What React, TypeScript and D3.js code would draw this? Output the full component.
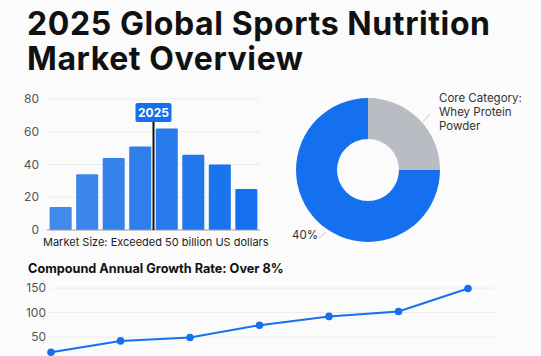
import React from "react";
import * as d3 from "d3";

const barValues = [14, 34, 44, 51, 62, 46, 40, 25];
const barTicks = [0, 20, 40, 60, 80];
const donutLabels = ["Core Category: Whey Protein Powder", "Other"];
const donutValues = [25, 75];
const lineValues = [19, 42, 49, 74, 92, 102, 149];
const lineTicks = [50, 100, 150];
const highlightLabel = "2025";

const W = 541;
const H = 356;
const FONT = "Inter, 'Noto Sans', sans-serif";

export default function App() {
  // bar chart
  const bx = d3.scaleBand<number>().domain(d3.range(barValues.length)).range([47, 260]).paddingInner(0.17).paddingOuter(0.1);
  const by = d3.scaleLinear().domain([0, 80]).range([230, 99]);
  const barColor = d3.scaleLinear<string>().domain([0, barValues.length - 1]).range(["#4189ea", "#1570ef"]);
  const hlX = (bx(3)! + bx.bandwidth() + bx(4)!) / 2;

  // donut
  const cx = 368, cy = 170;
  const pie = d3.pie<number>().sort(null).startAngle(0).endAngle(2 * Math.PI)(donutValues);
  const arc = d3.arc<d3.PieArcDatum<number>>().innerRadius(31).outerRadius(72);
  const donutColors = ["#b9bdc3", "#1570ef"];

  // line chart
  const lx = d3.scaleLinear().domain([0, lineValues.length - 1]).range([51, 468]);
  const ly = d3.scaleLinear().domain([50, 150]).range([337, 288]);
  const line = d3.line<number>().x((_, i) => lx(i)).y((d) => ly(d));

  return (
    <svg width={W} height={H} style={{ position: "absolute", left: 0, top: 0, background: "#fbfbfb" }} fontFamily={FONT}>
      <rect width={W} height={H} fill="#fbfbfb" />
      <text x={27} y={34.5} fontSize={32} fontWeight={700} letterSpacing={0.6} fill="#111">2025 Global Sports Nutrition</text>
      <text x={27} y={70} fontSize={32} fontWeight={700} letterSpacing={0.6} fill="#111">Market Overview</text>

      {/* Bar chart */}
      {barTicks.map((t) => (
        <g key={t}>
          {t > 0 && <line x1={47} x2={260} y1={by(t)} y2={by(t)} stroke="#ececec" strokeWidth={1} />}
          <text x={39} y={by(t)} dy="0.35em" textAnchor="end" fontSize={12} fill="#555">{t}</text>
        </g>
      ))}
      {barValues.map((v, i) => (
        <rect key={i} x={bx(i)} y={by(v)} width={bx.bandwidth()} height={by(0) - by(v)} fill={barColor(i)} rx={1} />
      ))}
      <line x1={47} x2={260} y1={by(0)} y2={by(0)} stroke="#999" strokeWidth={1} />
      <line x1={hlX} x2={hlX} y1={121} y2={by(0)} stroke="#111" strokeWidth={2} />
      <rect x={hlX - 18} y={103} width={36} height={19} rx={2} fill="#1570ef" />
      <text x={hlX} y={112.5} dy="0.36em" textAnchor="middle" fontSize={12} fontWeight={700} fill="#fff">{highlightLabel}</text>
      <text x={43} y={246} fontSize={11} fill="#222">Market Size: Exceeded 50 billion US dollars</text>

      {/* Donut */}
      <g transform={`translate(${cx},${cy})`}>
        {pie.map((p, i) => (
          <path key={i} d={arc(p)!} fill={donutColors[i]} />
        ))}
      </g>
      <line x1={423} y1={122} x2={430} y2={114} stroke="#c8c8c8" strokeWidth={1} />
      <text fontSize={11.5} fill="#333">
        <tspan x={439} y={102}>Core Category:</tspan>
        <tspan x={439} y={116}>Whey Protein</tspan>
        <tspan x={439} y={130}>Powder</tspan>
      </text>
      <line x1={319} y1={238} x2={326} y2={232} stroke="#c8c8c8" strokeWidth={1} />
      <text x={292} y={239} fontSize={11.5} fill="#333">40%</text>

      {/* Line chart */}
      <text x={28} y={273} fontSize={12.7} fontWeight={700} fill="#111">Compound Annual Growth Rate: Over 8%</text>
      {lineTicks.map((t) => (
        <g key={t}>
          <line x1={50} x2={495} y1={ly(t)} y2={ly(t)} stroke="#ececec" strokeWidth={1} />
          <text x={46} y={ly(t)} dy="0.35em" textAnchor="end" fontSize={12} fill="#555">{t}</text>
        </g>
      ))}
      <path d={line(lineValues)!} fill="none" stroke="#1570ef" strokeWidth={2} />
      {lineValues.map((v, i) => (
        <circle key={i} cx={lx(i)} cy={ly(v)} r={3.8} fill="#1570ef" />
      ))}
    </svg>
  );
}
